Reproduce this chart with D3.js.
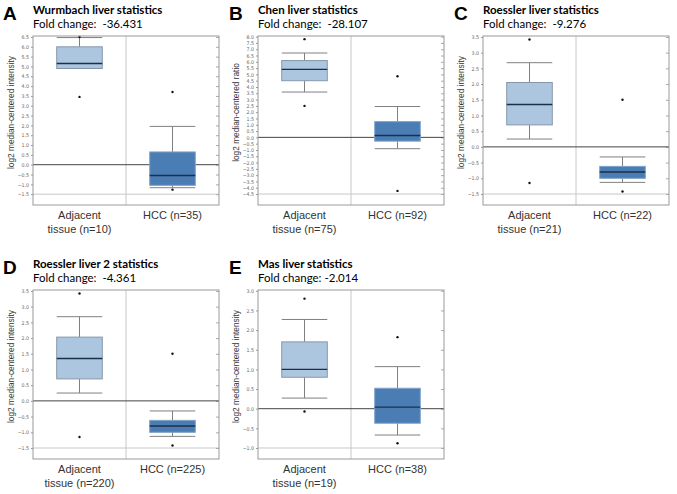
<!DOCTYPE html>
<html>
<head>
<meta charset="utf-8">
<script src="https://cdn.jsdelivr.net/npm/d3@7"></script>
<style>
  body { margin: 0; background: #fff; }
</style>
</head>
<body>
<svg></svg>
<script>
let width = 677
let height = 494

// data
let letters = ['A', 'B', 'C', 'D', 'E']
let titles = ['Wurmbach liver statistics', 'Chen liver statistics', 'Roessler liver statistics',
              'Roessler liver 2 statistics', 'Mas liver statistics']
let foldChanges = ['Fold change:  -36.431', 'Fold change:  -28.107', 'Fold change:  -9.276',
                   'Fold change:  -4.361', 'Fold change: -2.014']
let yLabels = ['log2 median-centered intensity', 'log2 median-centered ratio', 'log2 median-centered intensity',
               'log2 median-centered intensity', 'log2 median-centered intensity']
let groupNames = ['Adjacent', 'HCC']
let adjacentN = ['tissue (n=10)', 'tissue (n=75)', 'tissue (n=21)', 'tissue (n=220)', 'tissue (n=19)']
let hccN = ['HCC (n=35)', 'HCC (n=92)', 'HCC (n=22)', 'HCC (n=225)', 'HCC (n=38)']
let yDomains = [[-2.05, 6.55], [-5.37, 8.05], [-1.85, 3.53], [-1.85, 3.53], [-1.28, 3.02]]
let tickRanges = [[-1.5, 6.5], [-4.5, 8.0], [-1.5, 3.5], [-1.5, 3.5], [-1.0, 3.0]]
// [lower whisker, q1, median, q3, upper whisker]
let adjacentStats = [[4.9, 4.9, 5.15, 6.0, 6.47], [3.6, 4.5, 5.4, 6.1, 6.7], [0.25, 0.7, 1.35, 2.05, 2.68],
                     [0.25, 0.7, 1.35, 2.03, 2.68], [0.27, 0.8, 1.0, 1.7, 2.27]]
let hccStats = [[-1.17, -1.05, -0.55, 0.65, 1.95], [-0.9, -0.3, 0.15, 1.25, 2.45], [-1.13, -1.0, -0.8, -0.62, -0.32],
                [-1.13, -1.0, -0.8, -0.62, -0.32], [-0.67, -0.37, 0.04, 0.52, 1.07]]
let adjacentOutliers = [[6.5, 3.45], [7.8, 2.5], [3.42, -1.15], [3.42, -1.15], [2.8, -0.07]]
let hccOutliers = [[3.7, -1.27], [4.85, -4.25], [1.5, -1.42], [1.5, -1.42], [1.82, -0.88]]

let panelPos = [[33, 36], [258, 36], [483, 36], [33, 290], [258, 290]]
let letterX = [3, 229, 454, 3, 229]
let plotW = 186
let plotH = 169

let svg = d3.select('svg').attr('width', width).attr('height', height)

let drawPanel = (i) => {
    let g = svg.append('g')
        .attr('transform', 'translate(' + panelPos[i][0] + ',' + panelPos[i][1] + ')')

    let xScale = d3.scaleBand()
        .domain(groupNames)
        .range([0, plotW])

    let yScale = d3.scaleLinear()
        .domain(yDomains[i])
        .range([plotH, 0])

    let ticks = d3.range(tickRanges[i][0], tickRanges[i][1] + 0.01, 0.5)

    // headings
    svg.append('text')
        .attr('x', letterX[i])
        .attr('y', panelPos[i][1] - 16)
        .attr('font-family', 'Liberation Sans, Arial, sans-serif')
        .attr('font-weight', 'bold')
        .attr('font-size', 19)
        .text(letters[i])
    g.append('text')
        .attr('x', 0)
        .attr('y', -22)
        .attr('font-family', 'Lato, sans-serif')
        .attr('font-weight', 'bold')
        .attr('font-size', 11.5)
        .text(titles[i])
    g.append('text')
        .attr('x', 0)
        .attr('y', -8)
        .attr('font-family', 'Lato, sans-serif')
        .attr('font-size', 11.5)
        .attr('xml:space', 'preserve')
        .style('white-space', 'pre')
        .text(foldChanges[i])

    // lowest grid line and group divider
    g.append('line')
        .attr('x1', 0).attr('x2', plotW)
        .attr('y1', yScale(tickRanges[i][0])).attr('y2', yScale(tickRanges[i][0]))
        .attr('stroke', '#c8c8c8')
    g.append('line')
        .attr('x1', plotW / 2).attr('x2', plotW / 2)
        .attr('y1', 0).attr('y2', plotH)
        .attr('stroke', '#c8c8c8')

    // left axis
    let yAxis = d3.axisLeft(yScale)
        .tickValues(ticks)
        .tickSize(2)
        .tickPadding(2)
        .tickFormat(d3.format('.1f'))
    let ax = g.append('g').call(yAxis)
    ax.select('.domain').remove()
    ax.selectAll('line').attr('stroke', '#999')
    ax.selectAll('text')
        .attr('font-family', 'DejaVu Sans Condensed, DejaVu Sans, sans-serif')
        .attr('font-size', 5.2)
        .attr('fill', '#666')

    // right inner ticks
    let rAxis = d3.axisLeft(yScale)
        .tickValues(ticks)
        .tickSize(3)
        .tickFormat('')
    let rx = g.append('g').attr('transform', 'translate(' + plotW + ',0)').call(rAxis)
    rx.select('.domain').remove()
    rx.selectAll('line').attr('stroke', '#aaa')

    // zero line
    g.append('line')
        .attr('x1', 0).attr('x2', plotW)
        .attr('y1', yScale(0)).attr('y2', yScale(0))
        .attr('stroke', '#444')

    let stats = [adjacentStats[i], hccStats[i]]
    let outs = [adjacentOutliers[i], hccOutliers[i]]
    let fills = ['#adc6e0', '#4a7db4']
    let strokes = ['#8797aa', '#7ea2c9']
    let boxW = xScale.bandwidth() * 0.49

    stats.forEach((s, k) => {
        let cx = xScale(groupNames[k]) + xScale.bandwidth() / 2
        // whisker stems
        g.append('line')
            .attr('x1', cx).attr('x2', cx)
            .attr('y1', yScale(s[0])).attr('y2', yScale(s[1]))
            .attr('stroke', '#808080')
        g.append('line')
            .attr('x1', cx).attr('x2', cx)
            .attr('y1', yScale(s[3])).attr('y2', yScale(s[4]))
            .attr('stroke', '#808080')
        // caps
        g.selectAll(null)
            .data([s[0], s[4]])
            .enter()
            .append('line')
            .attr('x1', cx - boxW / 2).attr('x2', cx + boxW / 2)
            .attr('y1', (d) => yScale(d)).attr('y2', (d) => yScale(d))
            .attr('stroke', '#808080')
        // box
        g.append('rect')
            .attr('x', cx - boxW / 2)
            .attr('y', yScale(s[3]))
            .attr('width', boxW)
            .attr('height', yScale(s[1]) - yScale(s[3]))
            .attr('fill', fills[k])
            .attr('stroke', strokes[k])
        // median
        g.append('line')
            .attr('x1', cx - boxW / 2).attr('x2', cx + boxW / 2)
            .attr('y1', yScale(s[2])).attr('y2', yScale(s[2]))
            .attr('stroke', '#1c2f48')
            .attr('stroke-width', 1.3)
        // outliers
        g.selectAll(null)
            .data(outs[k])
            .enter()
            .append('circle')
            .attr('cx', cx)
            .attr('cy', (d) => yScale(d))
            .attr('r', 1.2)
            .attr('fill', '#111')
    })

    // frame
    g.append('rect')
        .attr('width', plotW)
        .attr('height', plotH)
        .attr('fill', 'none')
        .attr('stroke', '#9a9a9a')

    // group labels
    let cx0 = xScale(groupNames[0]) + xScale.bandwidth() / 2
    let cx1 = xScale(groupNames[1]) + xScale.bandwidth() / 2
    let labels = [[cx0, 14, 'Adjacent'], [cx0, 28, adjacentN[i]], [cx1, 14, hccN[i]]]
    g.selectAll(null)
        .data(labels)
        .enter()
        .append('text')
        .attr('x', (d) => d[0])
        .attr('y', (d) => plotH + d[1])
        .attr('text-anchor', 'middle')
        .attr('font-family', 'Liberation Sans, Arial, sans-serif')
        .attr('font-size', 11)
        .attr('fill', '#333')
        .text((d) => d[2])

    // y label
    g.append('text')
        .attr('transform', 'translate(-19,' + (plotH / 2 - 8) + ') rotate(-90)')
        .attr('text-anchor', 'middle')
        .attr('font-family', 'Liberation Sans, Arial, sans-serif')
        .attr('font-size', 8.3)
        .attr('fill', '#333')
        .text(yLabels[i])
}

letters.forEach((d, i) => drawPanel(i))
</script>
</body>
</html>
